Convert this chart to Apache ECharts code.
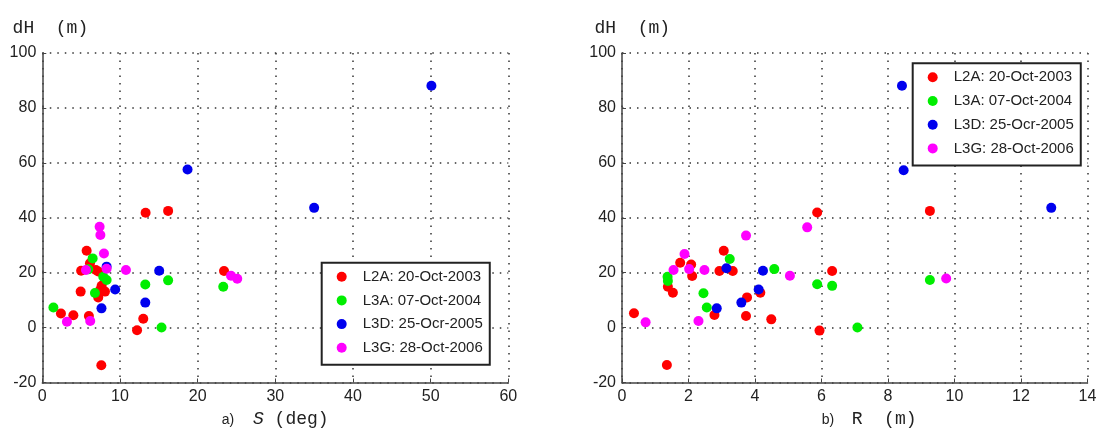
<!DOCTYPE html>
<html>
<head>
<meta charset="utf-8">
<style>
  html, body { margin: 0; padding: 0; background: #fff; }
  #chart { width: 1100px; height: 430px; }
</style>
<script src="https://cdn.jsdelivr.net/npm/echarts@6/dist/echarts.min.js"></script>
</head>
<body>
<div id="chart"></div>
<script>
'use strict';

// series names (same 4 campaigns in both panels)
const seriesNames = ['L2A: 20-Oct-2003', 'L3A: 07-Oct-2004', 'L3D: 25-Ocr-2005', 'L3G: 28-Oct-2006'];
const seriesColors = ['#ff0000', '#00ee00', '#0000ee', '#ff00ff'];

// panel a) : S (deg) vs dH (m)
const l2aS = [[5.71, 28.0], [5.0, 20.7], [6.14, 23.4], [6.9, 21.0], [7.2, 20.4], [7.64, 15.2], [8.07, 13.1], [7.43, 13.7], [7.2, 11.0], [4.94, 13.1],
  [2.4, 5.1], [4.0, 4.5], [6.0, 4.2], [12.2, -1.0], [13.0, 3.2], [13.3, 41.8], [16.2, 42.5], [23.4, 20.6], [7.6, -13.7]];
const l3aS = [[1.43, 7.3], [6.48, 25.2], [5.92, 21.2], [7.85, 18.5], [8.28, 17.3], [6.78, 12.6], [13.26, 15.7], [15.35, 0.0], [16.2, 17.2], [23.3, 14.9]];
const l3dS = [[7.62, 7.0], [8.28, 22.2], [9.38, 13.9], [13.26, 9.1], [15.05, 20.7], [18.7, 57.6], [35.0, 43.6], [50.1, 88.1]];
const l3gS = [[3.17, 2.1], [6.17, 2.4], [5.62, 21.0], [7.38, 36.7], [7.48, 33.7], [7.94, 27.0], [8.28, 21.4], [10.77, 21.0], [24.3, 18.9], [25.1, 17.8]];

// panel b) : R (m) vs dH (m)
const l2aR = [[0.36, 5.2], [1.35, -13.6], [1.38, 14.9], [1.53, 12.7], [1.75, 23.6], [2.08, 23.0], [2.11, 18.8], [2.78, 4.6], [2.93, 20.6], [3.06, 28.0],
  [3.33, 20.6], [3.76, 11.0], [3.73, 4.2], [4.16, 12.7], [4.49, 3.0], [5.87, 41.9], [5.94, -1.1], [6.32, 20.6], [9.26, 42.5]];
const l3aR = [[1.37, 18.5], [1.38, 17.0], [2.45, 12.5], [2.55, 7.3], [3.24, 25.0], [4.58, 21.3], [5.87, 15.8], [6.32, 15.2], [7.08, 0.0], [9.26, 17.3]];
const l3dR = [[2.85, 7.0], [3.14, 21.6], [3.59, 9.1], [4.11, 13.9], [4.24, 20.7], [8.42, 88.1], [8.47, 57.3], [12.91, 43.6]];
const l3gR = [[0.71, 1.9], [1.55, 21.0], [1.88, 26.8], [2.02, 21.3], [2.30, 2.4], [2.48, 21.0], [3.73, 33.5], [5.05, 18.9], [5.57, 36.5], [9.75, 17.9]];

// axis ranges
const xRangeS = { min: 0, max: 60, interval: 10 };
const xRangeR = { min: 0, max: 14, interval: 2 };
const yRange = { min: -20, max: 100, interval: 20 };

(function () {
  const chartEl = document.querySelector('#chart');
  const chart = echarts.init(chartEl, null, { renderer: 'canvas' });

  const tickFont = { color: '#222', fontSize: 16, fontFamily: 'Liberation Sans, Arial, sans-serif' };
  const monoFont = 'Liberation Mono, Courier New, monospace';

  function valueAxis(range, gridIndex) {
    return {
      type: 'value',
      gridIndex: gridIndex,
      min: range.min,
      max: range.max,
      interval: range.interval,
      axisLine: { show: true, onZero: false, lineStyle: { color: '#444', width: 1.5 } },
      axisTick: { show: true, inside: true, length: 4, lineStyle: { color: '#444' } },
      axisLabel: Object.assign({ margin: 6 }, tickFont),
      splitLine: { show: true, lineStyle: { color: '#333', width: 1.5, type: [1.5, 6] } }
    };
  }

  function scatter(name, color, data, idx) {
    return {
      name: name,
      type: 'scatter',
      xAxisIndex: idx,
      yAxisIndex: idx,
      symbol: 'circle',
      symbolSize: 10,
      itemStyle: { color: color, opacity: 1 },
      data: data
    };
  }

  function legendBox(left, top) {
    return {
      orient: 'vertical',
      left: left,
      top: top,
      data: seriesNames,
      icon: 'circle',
      itemWidth: 32,
      itemHeight: 10,
      itemGap: 5.7,
      padding: [5, 7, 8, 15],
      borderColor: '#222',
      borderWidth: 2,
      backgroundColor: '#fff',
      selectedMode: false,
      textStyle: { color: '#222', fontSize: 15, lineHeight: 18, fontFamily: 'Liberation Sans, Arial, sans-serif' }
    };
  }

  const panelS = [l2aS, l3aS, l3dS, l3gS];
  const panelR = [l2aR, l3aR, l3dR, l3gR];
  const series = [];
  seriesNames.forEach(function (n, i) { series.push(scatter(n, seriesColors[i], panelS[i], 0)); });
  seriesNames.forEach(function (n, i) { series.push(scatter(n, seriesColors[i], panelR[i], 1)); });

  // Axis captions
  // --------------------------------------------------------------------
  function caption(x, y, text, font, size, style) {
    return {
      type: 'text',
      left: x,
      top: y,
      style: { text: text, fill: '#222', font: (style || '') + ' ' + size + 'px ' + font }
    };
  }

  const option = {
    animation: false,
    backgroundColor: '#fff',
    grid: [
      { left: 42.3, top: 53, width: 466, height: 329.5 },
      { left: 622, top: 53, width: 465.5, height: 329.5 }
    ],
    xAxis: [valueAxis(xRangeS, 0), valueAxis(xRangeR, 1)],
    yAxis: [valueAxis(yRange, 0), valueAxis(yRange, 1)],
    legend: [legendBox(321.7, 262.7), legendBox(912.7, 63.3)],
    series: series,
    graphic: [
      caption(12.6, 19, 'dH  (m)', monoFont, 18),
      caption(594.5, 19, 'dH  (m)', monoFont, 18),
      caption(221.7, 413, 'a)', 'Liberation Sans, Arial, sans-serif', 14),
      caption(253, 410, 'S', monoFont, 18, 'italic'),
      caption(274.6, 410, '(deg)', monoFont, 18),
      caption(821.7, 413, 'b)', 'Liberation Sans, Arial, sans-serif', 14),
      caption(851.7, 410, 'R  (m)', monoFont, 18)
    ]
  };

  chart.setOption(option);
  window.addEventListener('resize', chart.resize);
})();
</script>
</body>
</html>
